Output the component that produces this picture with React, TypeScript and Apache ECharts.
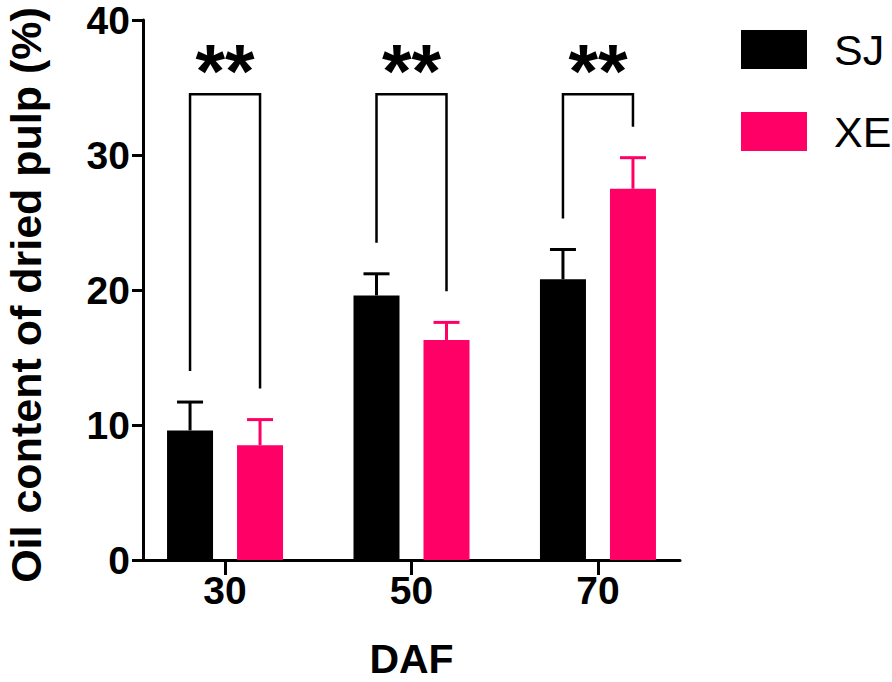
import React, { useEffect, useRef } from "react";
import * as echarts from "echarts";

const DAF = [30, 50, 70];
const SJ_MEAN = [9.6, 19.6, 20.8];
const SJ_SD = [2.1, 1.6, 2.2];
const XE_MEAN = [8.5, 16.3, 27.5];
const XE_SD = [1.9, 1.3, 2.3];
const BRACKET_TOP = [34.5, 34.5, 34.5];
const BRACKET_LEFT_END = [14.0, 23.5, 25.3];
const BRACKET_RIGHT_END = [12.7, 19.9, 32.1];
const SIG_LABELS = ["**", "**", "**"];
const SERIES_NAMES = ["SJ", "XE"];
const COLORS = ["#000000", "#FF0066"];

const FONT = "'Liberation Sans', Arial, Helvetica, sans-serif";
const BAR_W = 46;
const BAR_GAP = 24;
const HALF = (BAR_W + BAR_GAP) / 2;

export default function App() {
  const ref = useRef<HTMLDivElement>(null);
  useEffect(() => {
    if (!ref.current) return;
    const chart = echarts.init(ref.current, null, { renderer: "svg" });

    const errorSeries = (mean: number[], sd: number[], shift: number, color: string) => ({
      type: "custom",
      silent: true,
      z: 3,
      data: DAF.map((d, i) => [d, mean[i], mean[i] + sd[i]]),
      renderItem: (params: any, api: any) => {
        const x = api.value(0);
        const pMean = api.coord([x, api.value(1)]);
        const pTop = api.coord([x, api.value(2)]);
        const cx = pMean[0] + shift;
        return {
          type: "group",
          children: [
            { type: "line", shape: { x1: cx, y1: pMean[1], x2: cx, y2: pTop[1] }, style: { stroke: color, lineWidth: 3 } },
            { type: "line", shape: { x1: cx - 13, y1: pTop[1], x2: cx + 13, y2: pTop[1] }, style: { stroke: color, lineWidth: 3 } },
          ],
        };
      },
    });

    chart.setOption({
      animation: false,
      grid: { left: 143, right: 212, top: 20, bottom: 122, containLabel: false, outerBoundsMode: "none" },
      legend: {
        data: SERIES_NAMES,
        orient: "vertical",
        left: 741,
        top: 28,
        padding: 0,
        itemWidth: 66,
        itemHeight: 39,
        itemGap: 39,
        icon: "rect",
        textStyle: { fontFamily: FONT, fontSize: 43, color: "#000", lineHeight: 39, padding: [0, 0, 0, 22] },
      },
      xAxis: {
        type: "value",
        min: 21.2,
        max: 78.8,
        name: "DAF",
        nameLocation: "middle",
        nameGap: 78,
        nameTextStyle: { fontFamily: FONT, fontSize: 41, fontWeight: "bold", color: "#000" },
        axisLine: { show: true, onZero: false, lineStyle: { color: "#000", width: 3 } },
        axisTick: { show: true, customValues: DAF, length: 15, lineStyle: { color: "#000", width: 3 } },
        axisLabel: {
          customValues: DAF,
          margin: 11,
          fontFamily: FONT,
          fontSize: 39,
          fontWeight: "bold",
          color: "#000",
          formatter: (v: number) => String(v),
        },
        splitLine: { show: false },
      },
      yAxis: {
        type: "value",
        min: 0,
        max: 40,
        interval: 10,
        name: "Oil content of dried pulp (%)",
        nameLocation: "middle",
        nameGap: 96,
        nameTextStyle: {
          fontFamily: FONT,
          fontSize: 43,
          fontWeight: "bold",
          color: "#000",
          padding: [0, 10, 0, 0],
        },
        axisLine: { show: true, lineStyle: { color: "#000", width: 3 } },
        axisTick: { show: true, length: 11, lineStyle: { color: "#000", width: 3 } },
        axisLabel: { margin: 13, fontFamily: FONT, fontSize: 39, fontWeight: "bold", color: "#000" },
        splitLine: { show: false },
      },
      series: [
        {
          name: SERIES_NAMES[0],
          type: "bar",
          barWidth: BAR_W,
          barGap: (BAR_GAP / BAR_W) * 100 + "%",
          itemStyle: { color: COLORS[0] },
          data: DAF.map((d, i) => [d, SJ_MEAN[i]]),
        },
        {
          name: SERIES_NAMES[1],
          type: "bar",
          barWidth: BAR_W,
          barGap: (BAR_GAP / BAR_W) * 100 + "%",
          itemStyle: { color: COLORS[1] },
          data: DAF.map((d, i) => [d, XE_MEAN[i]]),
        },
        errorSeries(SJ_MEAN, SJ_SD, -HALF, COLORS[0]),
        errorSeries(XE_MEAN, XE_SD, HALF, COLORS[1]),
        {
          type: "custom",
          silent: true,
          z: 4,
          data: DAF.map((d, i) => [d, BRACKET_TOP[i], BRACKET_LEFT_END[i], BRACKET_RIGHT_END[i]]),
          renderItem: (params: any, api: any) => {
            const x = api.value(0);
            const pTop = api.coord([x, api.value(1)]);
            const pL = api.coord([x, api.value(2)]);
            const pR = api.coord([x, api.value(3)]);
            const cx = pTop[0];
            return {
              type: "group",
              children: [
                {
                  type: "polyline",
                  shape: {
                    points: [
                      [cx - HALF, pL[1]],
                      [cx - HALF, pTop[1]],
                      [cx + HALF, pTop[1]],
                      [cx + HALF, pR[1]],
                    ],
                  },
                  style: { stroke: "#000", lineWidth: 2.5, fill: "none" },
                },
                {
                  type: "text",
                  x: cx,
                  y: pTop[1] - 24,
                  style: {
                    text: SIG_LABELS[params.dataIndex],
                    fontFamily: FONT,
                    fontSize: 76,
                    fontWeight: "bold",
                    fill: "#000",
                    align: "center",
                    verticalAlign: "middle",
                  },
                },
              ],
            };
          },
        },
      ],
    });
    return () => chart.dispose();
  }, []);
  return <div ref={ref} style={{ width: 892, height: 682, position: "absolute", left: 0, top: 0, background: "#fff" }} />;
}
